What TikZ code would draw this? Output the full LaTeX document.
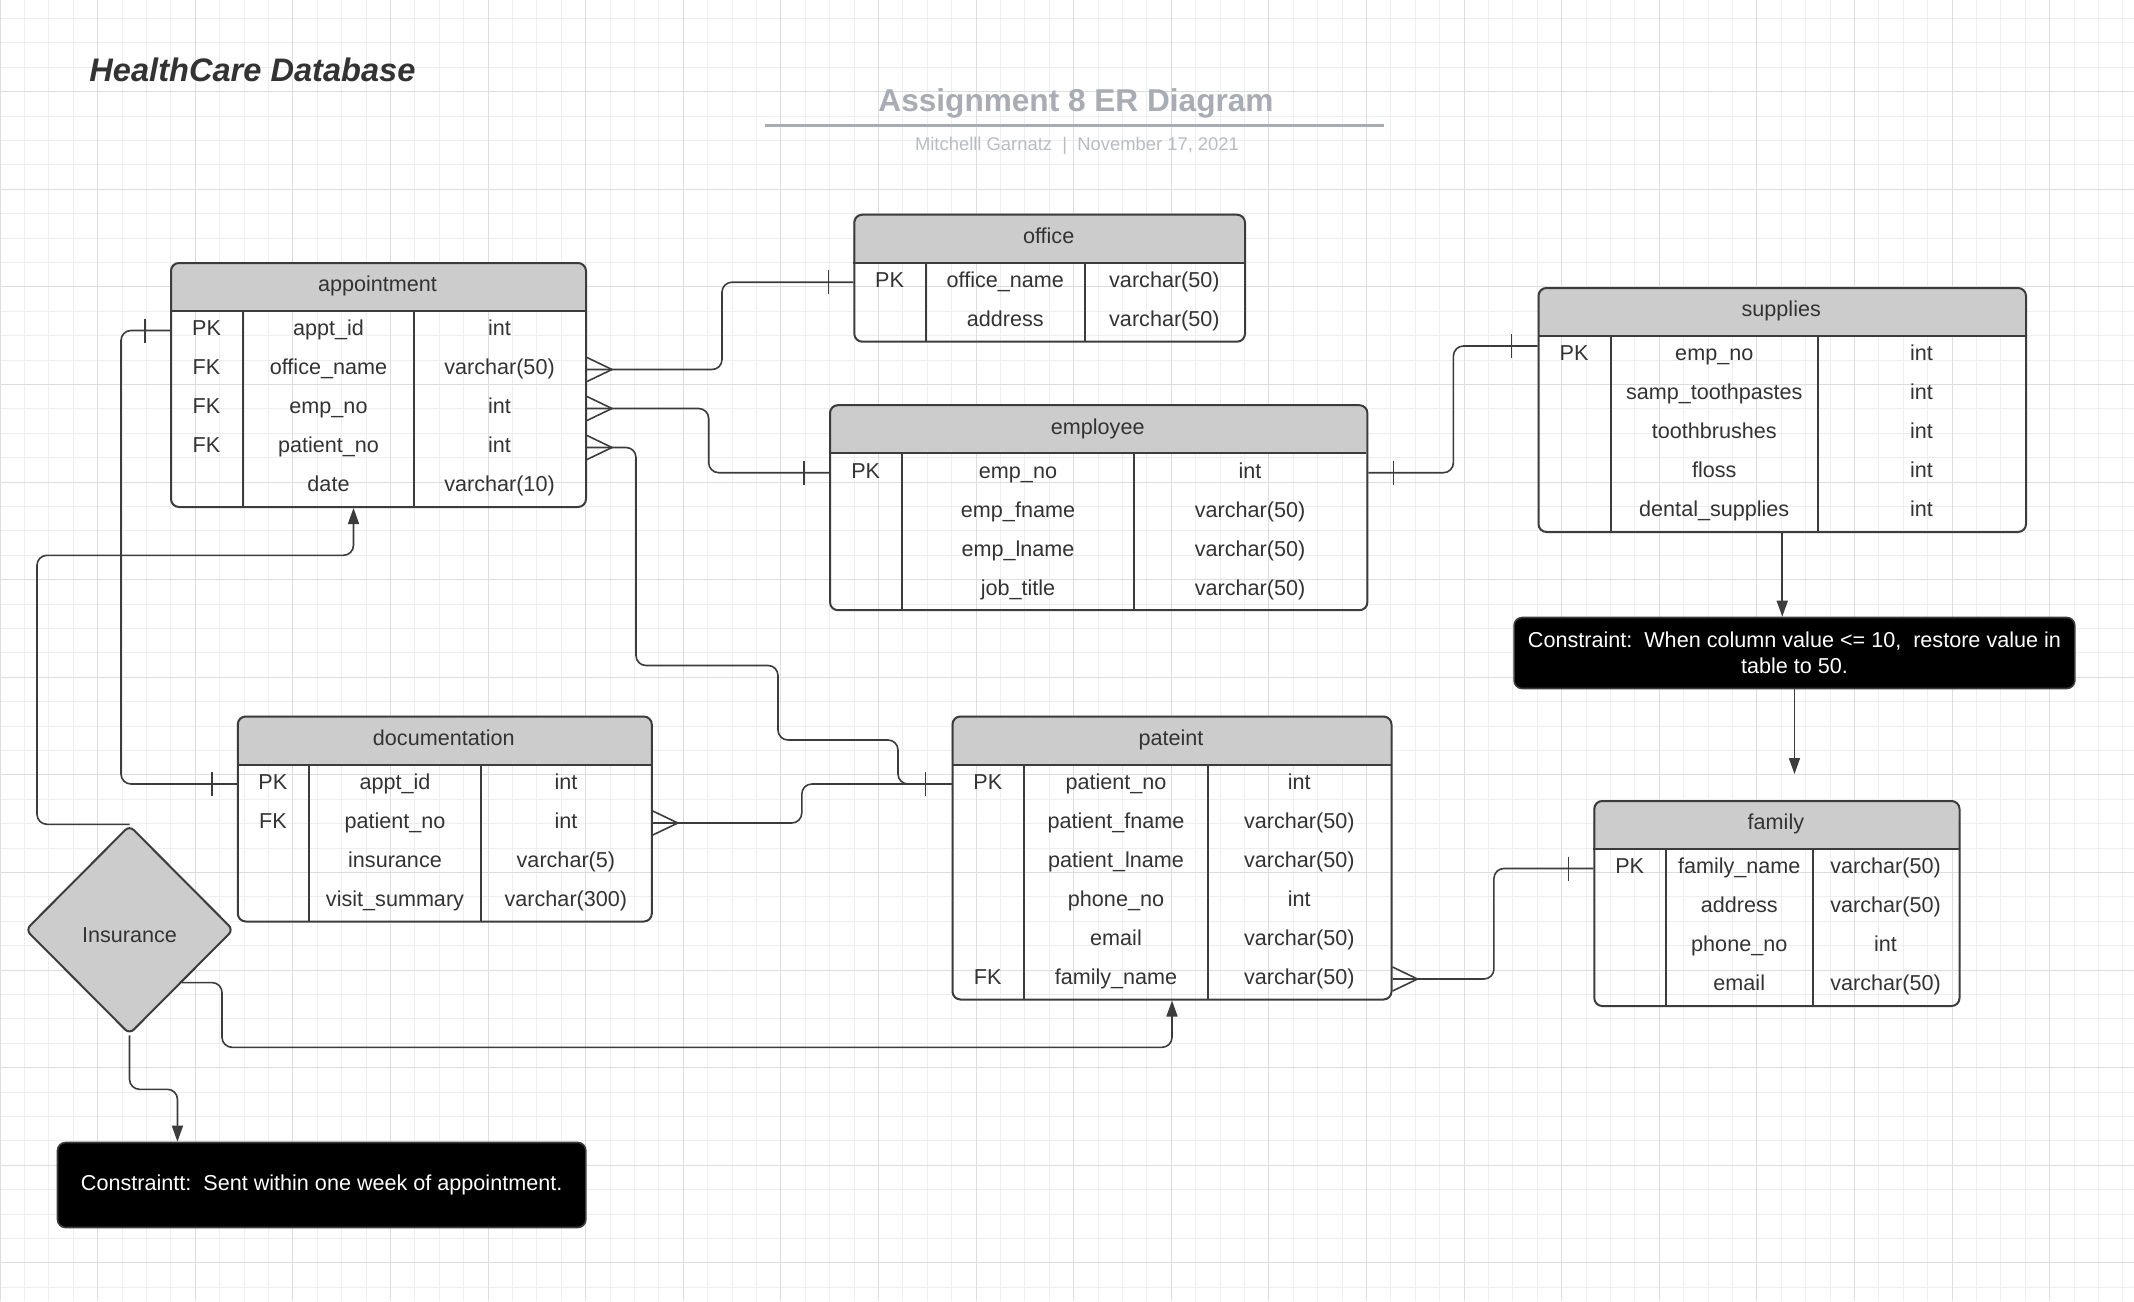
\documentclass[tikz,border=0pt]{standalone}
\usepackage{fontspec}
\setmainfont{Liberation Sans}
\usetikzlibrary{arrows.meta, shapes.geometric, calc}
\definecolor{linegray}{RGB}{60, 60, 60}
\definecolor{textgray}{RGB}{51, 51, 51}
\definecolor{headgray}{RGB}{204, 204, 204}
\definecolor{gridminor}{RGB}{238, 238, 238}
\definecolor{gridmajor}{RGB}{221, 221, 221}
\definecolor{titlegray}{RGB}{168, 172, 181}
\definecolor{subgray}{RGB}{185, 188, 194}

% #1 name, #2 x, #3 y, #4 width, #5 rows, #6/#7 dividers, #8 title, #9 rows
\newcommand{\ertable}[9]{%
  \fill[headgray, rounded corners=4pt] (#2,#3) rectangle (#2+#4,#3+49);
  \fill[headgray] (#2,#3+20) rectangle (#2+#4,#3+49);
  \node[tablebox, anchor=north west, minimum width=#4*0.5pt, minimum height={(49+39*#5)*0.5pt}] (#1) at (#2,#3) {};
  \draw[tableline] (#2,#3+49) -- (#2+#4,#3+49);
  \draw[tableline] (#2+#6,#3+49) -- (#2+#6,#3+49+39*#5);
  \draw[tableline] (#2+#7,#3+49) -- (#2+#7,#3+49+39*#5);
  \node[celltext] (#1-title) at (#2+#4/2,#3+24.5) {#8};
  \foreach [count=\i] \ka/\nm/\ty in {#9} {
    \node[celltext] (#1-\i) at (#2+#6/2,#3+29.5+39*\i) {\ka};
    \node[celltext] (#1-\i-name) at (#2+#6/2+#7/2,#3+29.5+39*\i) {\nm};
    \node[celltext] (#1-\i-type) at (#2+#7/2+#4/2,#3+29.5+39*\i) {\ty};
  }
}

\tikzset{
  crow/.pic={\draw[linegray, line width=0.8pt] (-25,-12) -- (0,0) -- (-25,12);},
  onebar/.pic={\draw[linegray, line width=0.8pt] (0,-12) -- (0,12);}
}

\begin{document}
\begin{tikzpicture}[x=0.5pt, y=-0.5pt, line join=round]

\tikzstyle{tablebox} = [draw=linegray, line width=1pt, rounded corners=4pt, inner sep=0pt]
\tikzstyle{tableline} = [draw=linegray, line width=1pt]
\tikzstyle{celltext} = [text=textgray, font=\fontsize{10.8}{13}\selectfont, text height=8pt, text depth=2.6pt, inner sep=0pt]
\tikzstyle{conn} = [draw=linegray, line width=0.8pt, rounded corners=5pt]
\tikzstyle{flow} = [conn, -{Triangle[length=8pt, width=5.5pt]}]
\tikzstyle{notebox} = [fill=black, draw=linegray, line width=0.8pt, rounded corners=4pt, text=white, font=\fontsize{10.8}{12.8}\selectfont, align=center, inner sep=0pt, anchor=north west]

\useasboundingbox (0,0) rectangle (2134,1301);
\fill[white] (0,0) rectangle (2134,1301);

% grid
\foreach \i in {0,...,87} \draw[gridminor, line width=0.5pt] (\i*24.4,0) -- (\i*24.4,1301);
\foreach \j in {0,...,52} \draw[gridminor, line width=0.5pt] (0,18.5+\j*24.4) -- (2134,18.5+\j*24.4);
\foreach \i in {0,...,21} \draw[gridmajor, line width=0.5pt] (\i*97.6,0) -- (\i*97.6,1301);
\foreach \j in {0,...,12} \draw[gridmajor, line width=0.5pt] (0,91.7+\j*97.6) -- (2134,91.7+\j*97.6);

% titles
\node[anchor=base west, inner sep=0pt, text=textgray, font=\fontsize{16.3}{19}\selectfont\bfseries\itshape] (title) at (89,81) {HealthCare Database};
\node[anchor=base, inner sep=0pt, text=titlegray, font=\fontsize{15.8}{18}\selectfont\bfseries] (subject) at (1076,111) {Assignment 8 ER Diagram};
\draw[titlegray, line width=1.5pt] (765,125.5) -- (1384,125.5);
\node[anchor=base, inner sep=0pt, text=subgray, font=\fontsize{9.2}{11}\selectfont] (byline) at (1077,150) {Mitchelll Garnatz\ \ |\ \ November 17, 2021};

% tables
\ertable{appt}{170}{262}{415}{5}{73}{244}{appointment}{PK/appt\_id/int, FK/office\_name/varchar(50), FK/emp\_no/int, FK/patient\_no/int, /date/varchar(10)}
\ertable{office}{853.3}{213.7}{390.7}{2}{72.6}{231.5}{office}{PK/office\_name/varchar(50), /address/varchar(50)}
\ertable{emp}{829}{404.2}{537.4}{4}{73.3}{304.7}{employee}{PK/emp\_no/int, /emp\_fname/varchar(50), /emp\_lname/varchar(50), /job\_title/varchar(50)}
\ertable{sup}{1537.5}{287}{487.5}{5}{73}{280.5}{supplies}{PK/emp\_no/int, /samp\_toothpastes/int, /toothbrushes/int, /floss/int, /dental\_supplies/int}
\ertable{doc}{236.8}{715.5}{414}{4}{72.2}{244.2}{documentation}{PK/appt\_id/int, FK/patient\_no/int, /insurance/varchar(5), /visit\_summary/varchar(300)}
\ertable{pat}{951.5}{715.5}{439}{6}{72.5}{256.5}{pateint}{PK/patient\_no/int, /patient\_fname/varchar(50), /patient\_lname/varchar(50), /phone\_no/int, /email/varchar(50), FK/family\_name/varchar(50)}
\ertable{fam}{1593.3}{800}{365.2}{4}{72.7}{219.2}{family}{PK/family\_name/varchar(50), /address/varchar(50), /phone\_no/int, /email/varchar(50)}

% constraints and the insurance check
\node[notebox, minimum width=280.35pt, minimum height=35.5pt] (con1) at (1513.3,616.7) {Constraint:\ \ When column value <= 10,\ \ restore value in\\table to 50.};
\node[notebox, minimum width=264.15pt, minimum height=42.5pt] (con2) at (56.7,1141.7) {Constraintt:\ \ Sent within one week of appointment.};
\node[diamond, draw=linegray, fill=headgray, line width=1pt, rounded corners=3pt, minimum width=104pt, minimum height=104.5pt, inner sep=0pt, text=textgray, text height=13pt, text depth=0pt, font=\fontsize{10.8}{13}\selectfont] (ins) at (129.5,929.8) {Insurance};

% relationships
\draw[conn] (appt-2 -| appt.east) -- ++(135,0) |- (office-1 -| office.west);
\pic at ($(appt-2 -| appt.east)+(25,0)$) {crow};
\pic at ($(office-1 -| office.west)+(-25,0)$) {onebar};

\draw[conn] (appt-3 -| appt.east) -- ++(121.7,0) |- (emp-1 -| emp.west);
\pic at ($(appt-3 -| appt.east)+(25,0)$) {crow};
\pic at ($(emp-1 -| emp.west)+(-25,0)$) {onebar};

\draw[conn] (appt-4 -| appt.east) -- ++(49,0) |- (778,665.5) |- (898,740) |- (pat-1 -| pat.west);
\pic at ($(appt-4 -| appt.east)+(25,0)$) {crow};
\pic at ($(pat-1 -| pat.west)+(-26,0)$) {onebar};

\draw[conn] (appt-1 -| appt.west) -- ++(-49,0) |- (doc-1 -| doc.west);
\pic at ($(appt-1 -| appt.west)+(-25,0)$) {onebar};
\pic at ($(doc-1 -| doc.west)+(-25,0)$) {onebar};

\draw[conn] (doc-2 -| doc.east) -- ++(149,0) |- (pat-1 -| pat.west);
\pic at ($(doc-2 -| doc.east)+(25,0)$) {crow};

\draw[conn] (emp-1 -| emp.east) -- ++(85,0) |- ($(sup-1 -| sup.west)+(0,-9.5)$);
\pic at ($(emp-1 -| emp.east)+(25,0)$) {onebar};
\pic at ($(sup-1 -| sup.west)+(-26,-9.5)$) {onebar};

\draw[conn] (pat-6 -| pat.east) -- ++(101.4,0) |- (fam-1 -| fam.west);
\pic at ($(pat-6 -| pat.east)+(25,0)$) {crow};
\pic at ($(fam-1 -| fam.west)+(-25,0)$) {onebar};

\draw[flow] (sup.south) -- (sup.south |- con1.north);
\draw[flow, shorten >=13pt] (con1.south) -- (con1.south |- fam.north);

\draw[flow] (ins.north) -| (37,555.3) -| ($(appt.south)+(-25,0)$);
\draw[flow] (ins.south east) -| (222,1047.3) -| (pat.south);
\draw[flow] (ins.south) -- ++(0,54) -| ($(con2.north)+(-144.2,0)$);

\end{tikzpicture}
\end{document}
